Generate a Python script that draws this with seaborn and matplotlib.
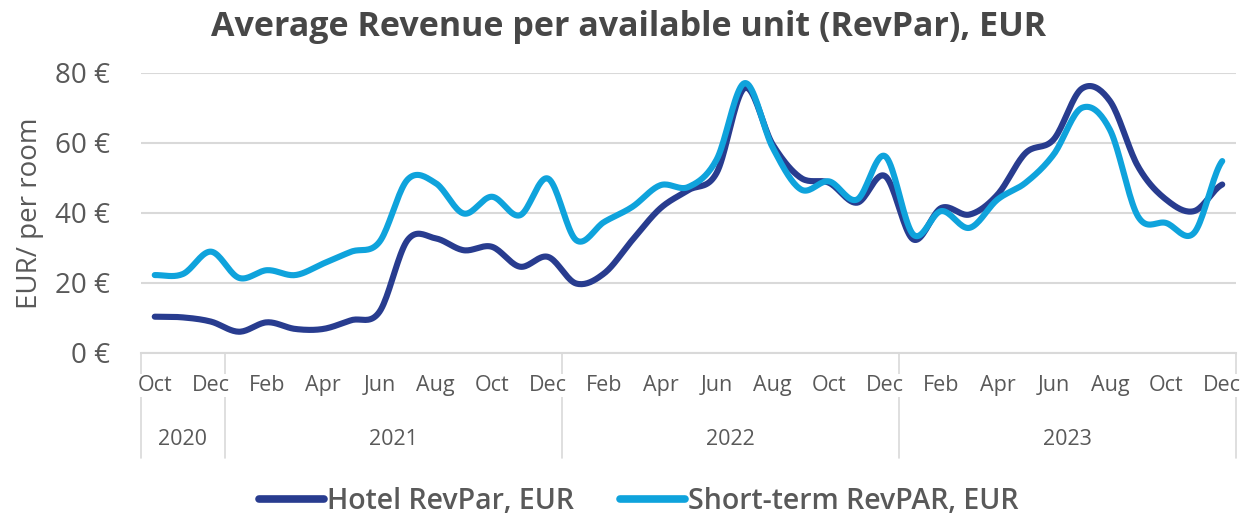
import matplotlib
matplotlib.use("Agg")
import matplotlib.pyplot as plt
import matplotlib.transforms as mtransforms
from matplotlib.lines import Line2D
import seaborn as sns
import numpy as np
import pandas as pd

# ---------------------------------------------------------------- data
months = ["Oct", "Nov", "Dec",
          "Jan", "Feb", "Mar", "Apr", "May", "Jun", "Jul", "Aug", "Sep", "Oct", "Nov", "Dec",
          "Jan", "Feb", "Mar", "Apr", "May", "Jun", "Jul", "Aug", "Sep", "Oct", "Nov", "Dec",
          "Jan", "Feb", "Mar", "Apr", "May", "Jun", "Jul", "Aug", "Sep", "Oct", "Nov", "Dec"]
years = ["2020", "2021", "2022", "2023"]
year_months = [3, 12, 12, 12]

hotel_revpar = [10.3, 10.1, 8.9, 6.0, 8.7, 6.8, 6.8, 9.3, 11.7, 32.2,
                32.7, 29.3, 30.3, 24.6, 27.4, 19.8, 22.7, 32.2, 41.3, 46.5,
                51.4, 75.7, 59.5, 50.0, 48.6, 42.9, 50.5, 32.4, 41.4, 39.5,
                45.2, 57.1, 61.0, 75.5, 72.0, 53.3, 43.8, 40.5, 48.1]
short_term_revpar = [22.2, 22.5, 28.9, 21.4, 23.6, 22.2, 25.5, 28.9, 31.7, 49.5,
                     48.5, 39.8, 44.6, 39.3, 49.8, 32.2, 37.4, 41.7, 47.9, 47.4,
                     55.2, 77.1, 58.6, 46.7, 49.0, 43.8, 56.2, 33.8, 40.5, 35.7,
                     43.8, 48.6, 56.7, 70.0, 63.8, 39.0, 37.1, 34.3, 54.8]
series_names = ["Hotel RevPar, EUR", "Short-term RevPAR, EUR"]
colors = ["#283c8f", "#0fa3dc"]


def smooth_curve(values, n=20):
    # catmull-rom drawing of the line, like Excel's "smoothed line"
    v = np.asarray(values, dtype=float)
    p = np.r_[v[0], v, v[-1]]
    xs, ys = [], []
    t = np.linspace(0, 1, n, endpoint=False)
    for i in range(len(v) - 1):
        p0, p1, p2, p3 = p[i], p[i + 1], p[i + 2], p[i + 3]
        ys.append(0.5 * (2 * p1 + (-p0 + p2) * t + (2 * p0 - 5 * p1 + 4 * p2 - p3) * t ** 2
                         + (-p0 + 3 * p1 - 3 * p2 + p3) * t ** 3))
        xs.append(i + t)
    xs.append([len(v) - 1])
    ys.append([v[-1]])
    return np.concatenate(xs), np.concatenate(ys)


sns.set_theme(style="white")
plt.rcParams["font.family"] = ["Open Sans", "DejaVu Sans"]
text_col = "#595959"
grid_col = "#d9d9d9"

fig = plt.figure(figsize=(12.45, 5.21), dpi=100)
ax = fig.add_axes([0.113, 0.323, 0.880, 0.537])

frames = []
for name, vals in zip(series_names, [hotel_revpar, short_term_revpar]):
    xs, ys = smooth_curve(vals)
    frames.append(pd.DataFrame({"x": xs, "y": ys, "series": name}))
df = pd.concat(frames, ignore_index=True)

sns.lineplot(data=df, x="x", y="y", hue="series", palette=colors, linewidth=4.4,
             sort=False, legend=False, ax=ax, solid_capstyle="round")

ax.set_xlim(-0.5, len(months) - 0.5)
ax.set_ylim(0, 80)
ax.set_yticks([0, 20, 40, 60, 80])
ax.set_yticklabels([f"{v} €" for v in [0, 20, 40, 60, 80]])
ax.yaxis.grid(True, color=grid_col, linewidth=1.5)
ax.tick_params(axis="y", length=0, pad=22, labelsize=20, labelcolor=text_col)

# month boundaries as ticks, month names as text on a white patch above them
ax.set_xticks(np.arange(-0.5, len(months), 1))
ax.set_xticklabels([])
ax.tick_params(axis="x", which="major", length=37, width=1.2, color=grid_col)

trans = mtransforms.blended_transform_factory(ax.transData, ax.transAxes)
for i in range(0, len(months), 2):
    ax.text(i, -0.118, months[i], transform=trans, ha="center", va="center",
            fontsize=15.5, color=text_col, zorder=5,
            bbox=dict(facecolor="white", edgecolor="none", pad=0.6))

for side in ["top", "right", "left"]:
    ax.spines[side].set_visible(False)
ax.spines["bottom"].set_color(grid_col)
ax.spines["bottom"].set_linewidth(1.5)

ax.set_xlabel("")
ax.set_ylabel("EUR/ per room", fontsize=20, color=text_col, labelpad=8)

# year row with separators
start = 0
bounds = [-0.5]
for yr, n in zip(years, year_months):
    ax.text(start + (n - 1) / 2, -0.31, yr, transform=trans, ha="center", va="center",
            fontsize=15.5, color=text_col)
    start += n
    bounds.append(start - 0.5)
for b in bounds:
    ax.plot([b, b], [0, -0.375], transform=trans, color=grid_col, linewidth=1.2, clip_on=False)

fig.text(0.505, 0.948, "Average Revenue per available unit (RevPar), EUR", ha="center", va="center",
         fontsize=24.5, fontweight="bold", color="#474747")

handles = [Line2D([0], [0], color=c, linewidth=5.5, solid_capstyle="round") for c in colors]
leg = fig.legend(handles, series_names, loc="center", bbox_to_anchor=(0.513, 0.038), ncol=2,
                 frameon=False, handlelength=2.3, handletextpad=0.1, columnspacing=1.6,
                 prop={"size": 20.5, "weight": "semibold"})
for t in leg.get_texts():
    t.set_color(text_col)

fig.savefig("out.png", dpi=100)
